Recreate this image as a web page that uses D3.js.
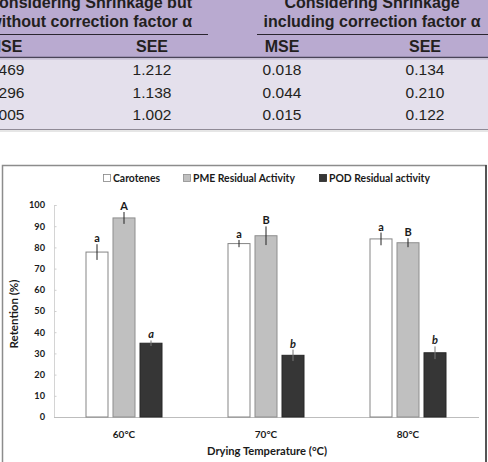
<!DOCTYPE html>
<html>
<head>
<meta charset="utf-8">
<script src="https://cdn.jsdelivr.net/npm/d3@7"></script>
<style>
  body { margin: 0; background: #fff; }
  svg { display: block; }
  .tbl { font-family: "Liberation Sans", Arial, sans-serif; fill: #231f20; }
  .chart { font-family: Lato, "Open Sans", sans-serif; font-weight: bold; fill: #1a1a1a; }
</style>
</head>
<body>
<svg width="488" height="462"></svg>
<script>
// table values
var groupTitles = [["Considering Shrinkage but", "without correction factor \u03b1"],
                   ["Considering Shrinkage", "including correction factor \u03b1"]];
var colHeads = ["MSE", "SEE", "MSE", "SEE"];
var mseNoAlpha = ["1.469", "1.296", "1.005"];
var seeNoAlpha = ["1.212", "1.138", "1.002"];
var mseAlpha = ["0.018", "0.044", "0.015"];
var seeAlpha = ["0.134", "0.210", "0.122"];

// chart values
var temps = ["60°C", "70°C", "80°C"];
var series = ["Carotenes", "PME Residual Activity", "POD Residual activity"];
var carotenes = [77.8, 81.8, 84.0];
var pme = [93.9, 85.5, 82.2];
var pod = [34.8, 29.1, 30.3];
var carotenesErr = [3.7, 1.7, 3.0];
var pmeErr = [2.8, 4.4, 2.1];
var podErr = [1.3, 2.7, 3.0];
var carotenesLetters = ["a", "a", "a"];
var pmeLetters = ["A", "B", "B"];
var podLetters = ["a", "b", "b"];
var yTicks = [0, 10, 20, 30, 40, 50, 60, 70, 80, 90, 100];

window.onload = function() {
var svg = d3.select('svg');

// ---- table piece at the top ----
var tbl = svg.append('g').attr('class', 'tbl');
tbl.append('rect').attr('x', 0).attr('y', 0).attr('width', 488).attr('height', 57).attr('fill', '#b9aad0');
tbl.append('rect').attr('x', 0).attr('y', 57).attr('width', 488).attr('height', 72).attr('fill', '#e4e0ec');
tbl.append('line').attr('x1', 0).attr('x2', 488).attr('y1', 57.5).attr('y2', 57.5)
  .attr('stroke', '#4a4458').attr('stroke-width', 1.5);
tbl.append('line').attr('x1', 0).attr('x2', 488).attr('y1', 59).attr('y2', 59)
  .attr('stroke', '#cbc3d8').attr('stroke-width', 1.5);
tbl.append('line').attr('x1', 0).attr('x2', 488).attr('y1', 129.5).attr('y2', 129.5)
  .attr('stroke', '#8f8a96').attr('stroke-width', 1.2);
tbl.append('line').attr('x1', 0).attr('x2', 488).attr('y1', 131).attr('y2', 131)
  .attr('stroke', '#e6e6e6').attr('stroke-width', 2);

// group underlines
tbl.append('line').attr('x1', 0).attr('x2', 208).attr('y1', 34.5).attr('y2', 34.5)
  .attr('stroke', '#2b2630').attr('stroke-width', 1);
tbl.append('line').attr('x1', 257).attr('x2', 488).attr('y1', 34.5).attr('y2', 34.5)
  .attr('stroke', '#2b2630').attr('stroke-width', 1);

// the table is cropped at the top and left, as in the source picture
var groupX = [192, 372];
var groupAnchor = ['end', 'middle'];
groupTitles.forEach(function(lines, g) {
  lines.forEach(function(t, i) {
    tbl.append('text')
      .attr('x', groupX[g])
      .attr('y', 8 + i * 19)
      .attr('text-anchor', groupAnchor[g])
      .attr('font-size', 16)
      .attr('font-weight', 'bold')
      .text(t);
  });
});

var colX = [5, 152, 282, 425];
tbl.selectAll('.colhead').data(colHeads).enter().append('text')
  .attr('class', 'colhead')
  .attr('x', function(d, i) { return colX[i]; })
  .attr('y', 52)
  .attr('text-anchor', 'middle')
  .attr('font-size', 16)
  .attr('font-weight', 'bold')
  .text(function(d) { return d; });

var cols = [mseNoAlpha, seeNoAlpha, mseAlpha, seeAlpha];
cols.forEach(function(col, c) {
  tbl.selectAll('.cell' + c).data(col).enter().append('text')
    .attr('class', 'cell' + c)
    .attr('x', colX[c])
    .attr('y', function(d, i) { return 75 + i * 22.5; })
    .attr('text-anchor', 'middle')
    .attr('font-size', 15.5)
    .text(function(d) { return d; });
});

// ---- chart ----
var chart = svg.append('g').attr('class', 'chart');
chart.append('rect')
  .attr('x', 2.5).attr('y', 165.5).attr('width', 483.5).attr('height', 320)
  .attr('fill', '#fff').attr('stroke', '#8c8c8c').attr('stroke-width', 1.5);
chart.append('line')
  .attr('x1', 486).attr('x2', 486).attr('y1', 165).attr('y2', 462)
  .attr('stroke', '#3a3a3a').attr('stroke-width', 1.5);

var y = d3.scaleLinear().domain([0, 100]).range([417, 205]);
var x = d3.scaleBand().domain(temps).range([53, 479]);
var bw = x.bandwidth();
var xs = d3.scaleBand().domain(series).range([bw / 2 - 38.5, bw / 2 + 38.5]).paddingInner(4 / 27);

var yAxis = chart.append('g')
  .attr('transform', 'translate(54,0)')
  .call(d3.axisLeft(y).tickValues(yTicks).tickSize(-2.5).tickPadding(9));
yAxis.select('.domain').attr('stroke', '#d4d4d4');
yAxis.selectAll('.tick line').attr('stroke', '#cfcfcf');
yAxis.selectAll('.tick text')
  .attr('font-family', 'Lato, sans-serif').attr('font-weight', 'bold')
  .attr('font-size', 9.2).attr('fill', '#1a1a1a');

var xAxis = chart.append('g')
  .attr('transform', 'translate(0,417)')
  .call(d3.axisBottom(x).tickSize(0).tickPadding(14));
xAxis.select('.domain').attr('stroke', '#bdbdbd').attr('d', 'M54,0.5H479');
xAxis.selectAll('.tick text')
  .attr('font-family', 'Lato, sans-serif').attr('font-weight', 'bold')
  .attr('font-size', 10).attr('fill', '#1a1a1a');

var values = [carotenes, pme, pod];
var errs = [carotenesErr, pmeErr, podErr];
var letters = [carotenesLetters, pmeLetters, podLetters];
var fills = ['#ffffff', '#c0c0c0', '#363636'];
var strokes = ['#858585', '#8e8e8e', '#262626'];

series.forEach(function(s, k) {
  var rows = temps.map(function(t, i) {
    return { t: t, v: values[k][i], e: errs[k][i], l: letters[k][i] };
  });
  var g = chart.append('g');
  g.selectAll('rect').data(rows).enter().append('rect')
    .attr('x', function(d) { return x(d.t) + xs(s) + 0.5; })
    .attr('y', function(d) { return y(d.v); })
    .attr('width', xs.bandwidth() - 1)
    .attr('height', function(d) { return y(0) - y(d.v); })
    .attr('fill', fills[k])
    .attr('stroke', strokes[k])
    .attr('stroke-width', 1);
  g.selectAll('line').data(rows).enter().append('line')
    .attr('x1', function(d) { return x(d.t) + xs(s) + xs.bandwidth() / 2; })
    .attr('x2', function(d) { return x(d.t) + xs(s) + xs.bandwidth() / 2; })
    .attr('y1', function(d) { return y(d.v + d.e); })
    .attr('y2', function(d) { return y(d.v - d.e); })
    .attr('stroke', k == 2 ? '#777' : '#222')
    .attr('stroke-width', 1);
  g.selectAll('text').data(rows).enter().append('text')
    .attr('x', function(d) { return x(d.t) + xs(s) + xs.bandwidth() / 2; })
    .attr('y', function(d) { return y(d.v + d.e) - 2; })
    .attr('text-anchor', 'middle')
    .attr('font-size', 11)
    .attr('font-style', k == 2 ? 'italic' : 'normal')
    .text(function(d) { return d.l; });
});

// legend
var legX = [103, 183, 319];
series.forEach(function(s, k) {
  chart.append('rect')
    .attr('x', legX[k] + 0.5).attr('y', 174.5).attr('width', 7).attr('height', 7)
    .attr('fill', fills[k]).attr('stroke', strokes[k]).attr('stroke-width', 0.8);
  chart.append('text')
    .attr('x', legX[k] + 10).attr('y', 182)
    .attr('font-size', 10.4)
    .text(s);
});

// axis titles
chart.append('text')
  .attr('x', 267).attr('y', 455)
  .attr('text-anchor', 'middle')
  .attr('font-size', 11.2)
  .text('Drying Temperature (°C)');
chart.append('text')
  .attr('transform', 'translate(18,314) rotate(-90)')
  .attr('text-anchor', 'middle')
  .attr('font-size', 11.5)
  .text('Retention (%)');
};
</script>
</body>
</html>
